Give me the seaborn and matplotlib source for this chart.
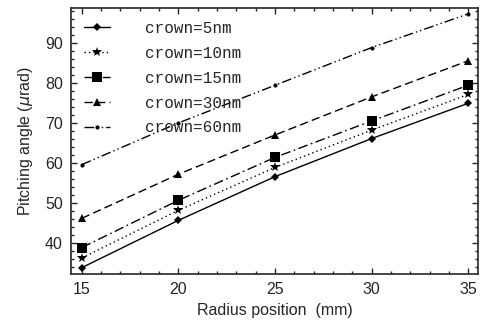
import pandas as pd
import numpy as np
import matplotlib
matplotlib.use("Agg")
import matplotlib.pyplot as plt
import seaborn as sns
from matplotlib.ticker import MultipleLocator

# radius positions (mm)
radius = [15, 20, 25, 30, 35]

# pitching angle (urad) for each crown height
crown_labels = ["crown=5nm", "crown=10nm", "crown=15nm", "crown=30nm", "crown=60nm"]
crown_5 = [33.9, 45.7, 56.6, 66.1, 74.9]
crown_10 = [36.3, 48.2, 58.9, 68.2, 77.1]
crown_15 = [38.9, 50.7, 61.4, 70.5, 79.4]
crown_30 = [46.2, 57.2, 67.0, 76.5, 85.5]
crown_60 = [59.6, 70.0, 79.4, 88.8, 97.2]

series = [crown_5, crown_10, crown_15, crown_30, crown_60]
df = pd.DataFrame(
    {
        "radius": radius * len(series),
        "angle": np.concatenate(series),
        "crown": np.repeat(crown_labels, len(radius)),
    }
)

sns.set_style("ticks")
plt.rcParams["font.family"] = ["Liberation Sans", "DejaVu Sans"]

dashes = {
    "crown=5nm": "",
    "crown=10nm": (1, 2.2),
    "crown=15nm": (7, 2.5, 1.2, 2.5),
    "crown=30nm": (6, 3),
    "crown=60nm": (7, 2.2, 1, 2.2, 1, 2.2),
}
markers = {
    "crown=5nm": "D",
    "crown=10nm": "*",
    "crown=15nm": "s",
    "crown=30nm": "^",
    "crown=60nm": "o",
}
sizes = {"crown=5nm": 4.5, "crown=10nm": 7, "crown=15nm": 6.5,
         "crown=30nm": 5.5, "crown=60nm": 3}

fig = plt.figure(figsize=(4.84, 3.33), dpi=100)
ax = fig.add_axes([0.147, 0.177, 0.841, 0.798])

sns.lineplot(
    data=df, x="radius", y="angle", style="crown", hue="crown",
    palette=["black"] * 5, dashes=dashes, markers=markers,
    linewidth=1.0, markeredgewidth=0, ax=ax, legend=False,
)
for line, lab in zip(ax.get_lines(), crown_labels):
    line.set_markersize(sizes[lab])
    line.set_label(lab)

ax.set_xlim(14.45, 35.52)
ax.set_ylim(32.3, 98.6)
ax.xaxis.set_major_locator(MultipleLocator(5))
ax.xaxis.set_minor_locator(MultipleLocator(1))
ax.yaxis.set_major_locator(MultipleLocator(10))
ax.yaxis.set_minor_locator(MultipleLocator(2))
ax.tick_params(which="both", direction="in", top=True, right=True,
               labelsize=11.5, width=1.0)
ax.tick_params(which="major", length=4.5, pad=6)
ax.tick_params(which="minor", length=2)
for sp in ax.spines.values():
    sp.set_linewidth(1.2)

ax.set_xlabel("Radius position  (mm)", fontsize=11.5, labelpad=4)
ax.set_ylabel(r"Pitching angle ($\mu$rad)", fontsize=11.5, labelpad=7)

leg = ax.legend(
    loc="upper left", frameon=False, handlelength=1.6,
    prop={"family": "Liberation Mono", "size": 11.5},
    labelspacing=0.62, handletextpad=2.2, borderaxespad=0.3,
    bbox_to_anchor=(0.005, 0.995),
)

fig.savefig("out.png", dpi=100)
